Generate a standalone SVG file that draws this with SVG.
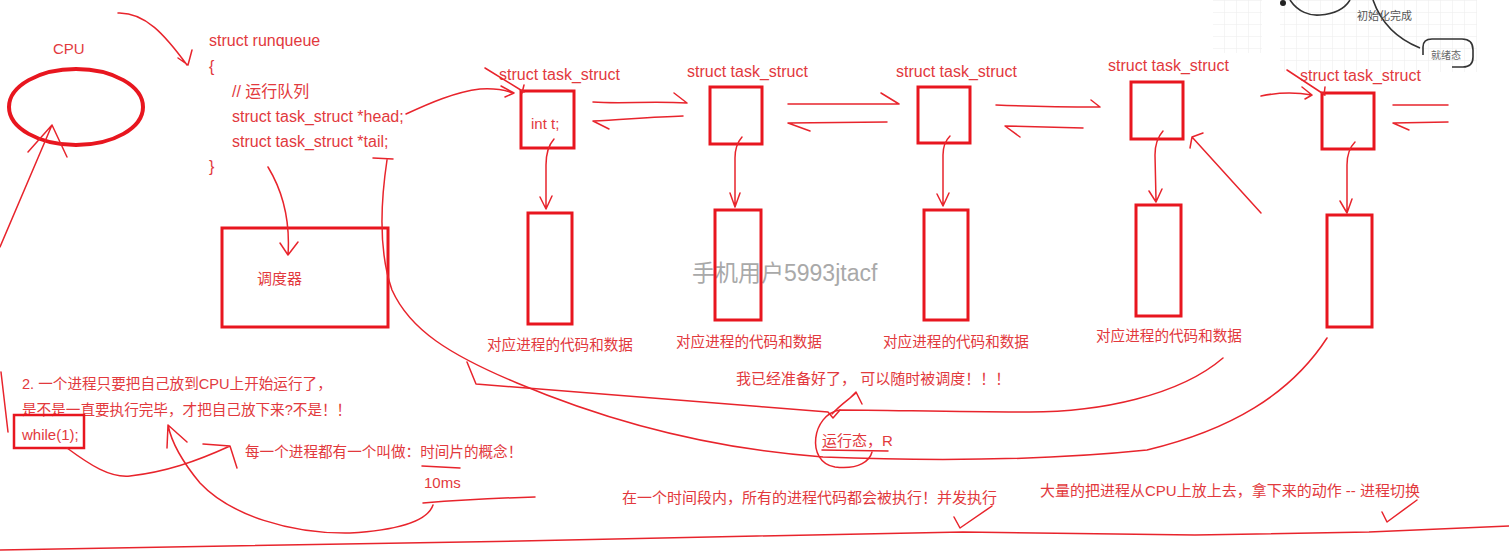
<svg xmlns="http://www.w3.org/2000/svg" width="1509" height="552" viewBox="0 0 1509 552">
<style>
.s{stroke:#e8242c;fill:none;stroke-width:1.5;stroke-linecap:round;stroke-linejoin:round}
.b{stroke:#e8161f;fill:none;stroke-width:3}
.t{font-family:"Liberation Sans","Noto Sans CJK SC",sans-serif;fill:#e2393d;font-size:16px}
.c{font-family:"Liberation Sans","Noto Sans CJK SC",sans-serif;fill:#e2393d;font-size:14.6px}
.c15{font-family:"Liberation Sans","Noto Sans CJK SC",sans-serif;fill:#e2393d;font-size:15px}
.d{font-family:"Liberation Sans","Noto Sans CJK SC",sans-serif;fill:#e2393d;font-size:14.6px}
.g{stroke:#333;fill:none;stroke-width:1.6}
</style>
<defs>
<pattern id="grid" width="12" height="12" patternUnits="userSpaceOnUse">
<path d="M12,0 L0,0 L0,12" fill="none" stroke="#ececec" stroke-width="1"/>
</pattern>
</defs>
<rect width="1509" height="552" fill="#ffffff"/>

<g id="inset">
<rect x="1213" y="0" width="49" height="53" fill="url(#grid)"/>
<rect x="1280" y="0" width="197" height="72" fill="url(#grid)"/>
<circle cx="1283" cy="3" r="3" fill="#222"/>
<path class="g" d="M1290,0 C1298,12 1310,16 1320,15 C1335,14 1345,8 1350,0"/>
<path class="g" d="M1373,0 C1380,20 1395,38 1420,48"/>
<path class="g" d="M1423,55 L1423,47 Q1423,39 1432,39 L1462,39 Q1473,39 1473,50 L1473,57 Q1473,67 1463,67 L1452,67"/>
<text x="1357" y="20" font-family="'Noto Sans CJK SC',sans-serif" font-size="11" fill="#555">初始化完成</text>
<text x="1431" y="59" font-family="'Noto Sans CJK SC',sans-serif" font-size="10" fill="#666">就绪态</text>
</g>

<text x="692" y="281" font-family="'Liberation Sans','Noto Sans CJK SC',sans-serif" font-size="23" fill="#a9a9a9">手机用户5993jtacf</text>

<g id="cpu">
<text class="c15" x="53" y="54">CPU</text>
<ellipse cx="76" cy="107" rx="67" ry="38" fill="none" stroke="#e8161f" stroke-width="4"/>
</g>

<g id="runqueue">
<text class="t" x="209" y="46">struct runqueue</text>
<text class="t" x="209" y="72">{</text>
<text class="t" x="232" y="97">// 运行队列</text>
<text class="t" x="232" y="122">struct task_struct *head;</text>
<text class="t" x="232" y="147">struct task_struct *tail;</text>
<text class="t" x="209" y="172">}</text>
</g>

<g id="scheduler">
<rect class="b" x="222" y="228" width="166" height="99"/>
<text class="c15" x="257" y="284">调度器</text>
</g>

<g id="task1">
<text class="t" x="499" y="80">struct task_struct</text>
<rect class="b" x="521" y="91" width="53" height="57"/>
<text class="c15" x="531" y="129">int t;</text>
</g>
<g id="task2">
<text class="t" x="687" y="77">struct task_struct</text>
<rect class="b" x="710" y="87" width="52" height="57"/>
</g>
<g id="task3">
<text class="t" x="896" y="77">struct task_struct</text>
<rect class="b" x="918" y="87" width="52" height="56"/>
</g>
<g id="task4">
<text class="t" x="1108" y="71">struct task_struct</text>
<rect class="b" x="1131" y="82" width="52" height="57"/>
</g>
<g id="task5">
<text class="t" x="1300" y="81">struct task_struct</text>
<rect class="b" x="1322" y="93" width="52" height="56"/>
</g>

<g id="data1">
<rect class="b" x="528" y="213" width="44" height="111"/>
<text class="d" x="487" y="350">对应进程的代码和数据</text>
</g>
<g id="data2">
<rect class="b" x="715" y="210" width="46" height="110"/>
<text class="d" x="676" y="347">对应进程的代码和数据</text>
</g>
<g id="data3">
<rect class="b" x="924" y="210" width="44" height="110"/>
<text class="d" x="883" y="347">对应进程的代码和数据</text>
</g>
<g id="data4">
<rect class="b" x="1136" y="205" width="45" height="111"/>
<text class="d" x="1096" y="341">对应进程的代码和数据</text>
</g>
<g id="data5">
<rect class="b" x="1327" y="215" width="45" height="112"/>
</g>

<g id="notes">
<text class="c" x="22" y="389">2. 一个进程只要把自己放到CPU上开始运行了，</text>
<text class="c" x="22" y="415">是不是一直要执行完毕，才把自己放下来?不是！！</text>
<rect x="14" y="415" width="70" height="33" fill="none" stroke="#e8161f" stroke-width="2.5"/>
<text class="c15" x="22" y="440">while(1);</text>
<text class="c" x="245" y="457">每一个进程都有一个叫做：时间片的概念！</text>
<text class="c15" x="424" y="488">10ms</text>
<text class="c15" x="736" y="384">我已经准备好了， 可以随时被调度！！！</text>
<text class="c15" x="822" y="446">运行态，R</text>
<text class="c15" x="622" y="503">在一个时间段内，所有的进程代码都会被执行！并发执行</text>
<text class="c15" x="1040" y="496">大量的把进程从CPU上放上去，拿下来的动作 -- 进程切换</text>
</g>

<g id="connectors">
<path class="s" d="M118,13 C145,12 165,35 187,65 M192,50 L188,65 L178,58"/>
<path class="s" d="M0,247 L52,125 M28,152 L52,125 L67,157"/>
<path class="s" d="M406,114 C430,103 455,92 480,89 C495,88 505,90 513,93 M501,86 L514,93 L505,97 M485,68 L524,92 M524,85 L522,93"/>
<path class="s" d="M268,167 C285,195 290,225 288,255 M280,243 L288,255 L298,242"/>
<path class="s" d="M554,139 Q546,148 546,165 L546,208 M540,197 L546,209 L552,196"/>
<path class="s" d="M742,137 Q735,145 735,158 L735,206 M730,193 L735,207 L740,193"/>
<path class="s" d="M950,136 Q943,143 943,155 L943,205 M937,194 L943,206 L949,193"/>
<path class="s" d="M1163,131 Q1155,140 1155,155 L1156,200 M1149,191 L1156,202 L1162,189"/>
<path class="s" d="M1355,142 Q1347,150 1347,165 L1347,211 M1340,201 L1347,213 L1352,199"/>
<path class="s" d="M593,102 C620,104 650,101 687,103 M674,93 L687,103"/>
<path class="s" d="M683,116 C650,117 620,120 593,121 L609,129"/>
<path class="s" d="M788,104 L899,104 M881,93 L899,104"/>
<path class="s" d="M887,122 L788,123 L810,131"/>
<path class="s" d="M996,105 C1040,107 1070,107 1100,107 M1091,100 L1100,107"/>
<path class="s" d="M1083,128 L1005,126 L1020,137"/>
<path class="s" d="M1261,96 C1280,92 1295,92 1312,95 M1302,87 L1312,95 L1305,99 M1287,70 L1325,95 M1325,87 L1324,95"/>
<path class="s" d="M1393,105 L1448,105 M1448,122 L1393,123 L1409,130"/>
<path class="s" d="M1261,213 L1192,137 M1203,133 L1192,137 L1190,148"/>
<path class="s" d="M373,158 L393,159 M387,160 C381,200 378,250 392,290 C410,330 450,355 517,383 C600,418 700,448 823,457 C950,462 1050,460 1147,450 C1230,430 1290,395 1327,338"/>
<path class="s" d="M467,362 L476,384 C560,390 700,402 828,412 L833,418 L840,410 C880,410 960,412 1023,412 C1100,413 1180,395 1223,358"/>
<path class="s" d="M832,414 C840,405 848,400 856,393 M850,398 L856,392 L862,404"/>
<path class="s" d="M840,410 C812,414 805,462 835,467 C860,470 870,460 872,452 M822,450 L888,451"/>
<path class="s" d="M67,448 C90,465 110,478 130,476 C165,472 195,462 230,446 M203,444 L230,446 L237,468"/>
<path class="s" d="M433,505 C428,520 400,530 350,533 C290,534 230,515 200,483 C185,465 172,445 168,425 M167,448 L168,425 L187,442"/>
<path class="s" d="M422,466 L460,468"/>
<path class="s" d="M423,503 C460,500 500,498 535,497"/>
<path class="s" d="M0,550 L520,541 L757,536 L963,532 L1195,535 L1369,532 L1509,526"/>
<path class="s" d="M954,517 L960,528 L992,506 M1382,512 L1387,522 L1417,500"/>
<path class="s" d="M1,372 L8,432"/>
</g>
</svg>
